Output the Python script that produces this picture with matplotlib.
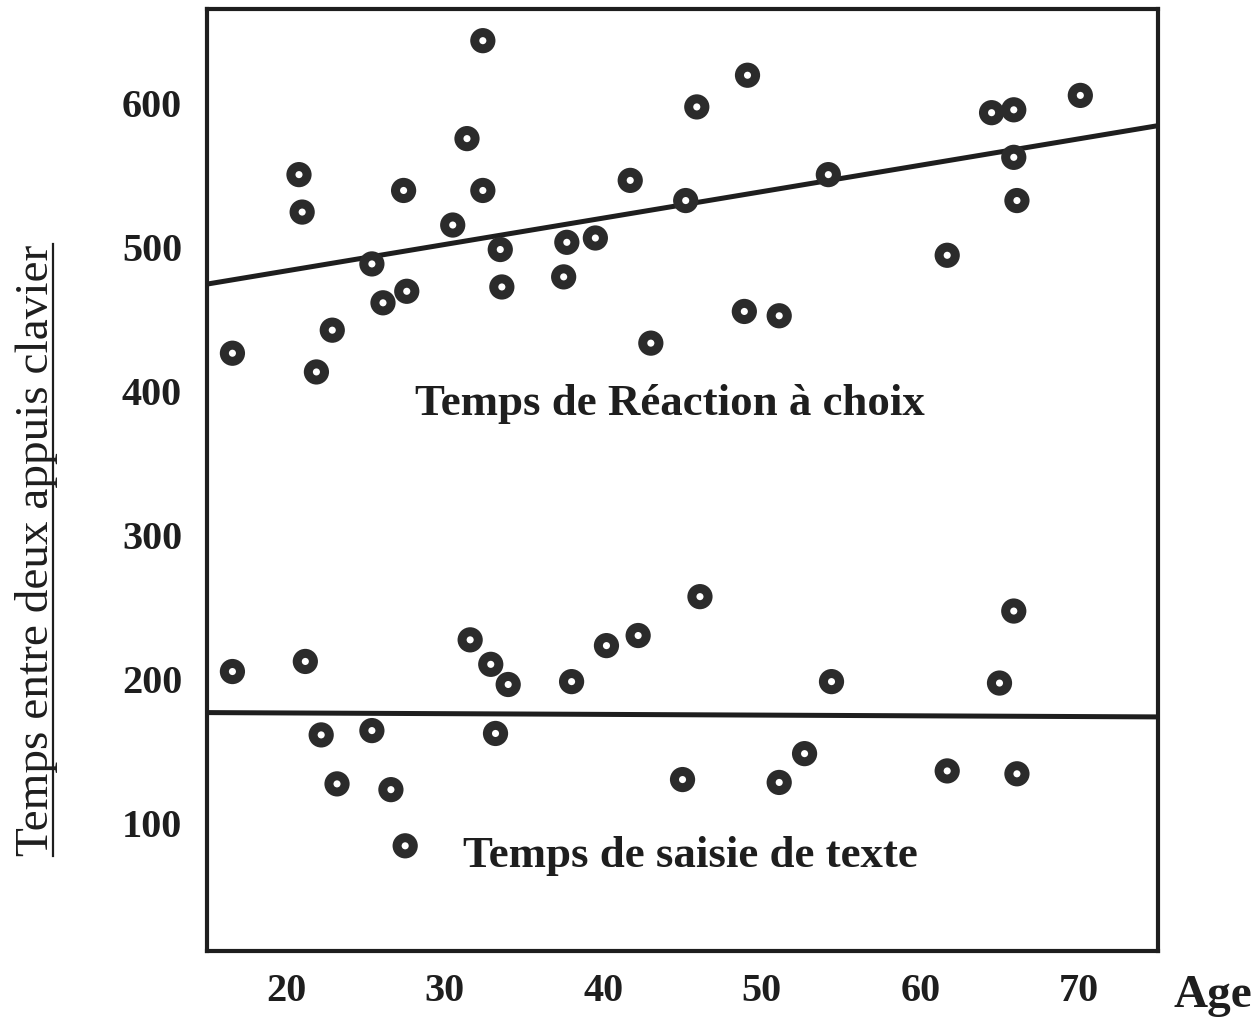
import matplotlib
matplotlib.use("Agg")
import matplotlib.pyplot as plt
from matplotlib.lines import Line2D

# --- données ---
ages_reaction = [32.4, 31.4, 20.8, 27.4, 32.4, 41.7, 21.0, 30.5, 25.4, 33.5, 37.7,
                 39.5, 27.6, 26.1, 33.6, 37.5, 22.9, 16.6, 21.9, 43.0, 49.1, 45.9,
                 64.5, 65.9, 70.1, 45.2, 54.2, 65.9, 66.1, 61.7, 48.9, 51.1]
temps_reaction = [643, 575, 550, 539, 539, 546, 524, 515, 488, 498, 503,
                  506, 469, 461, 472, 479, 442, 426, 413, 433, 619, 597,
                  593, 595, 605, 532, 550, 562, 532, 494, 455, 452]

ages_saisie = [16.6, 21.2, 31.6, 32.9, 34.0, 38.0, 40.2, 42.2, 46.1, 65.9, 54.4, 65.0,
               22.2, 25.4, 33.2, 23.2, 26.6, 27.5, 45.0, 52.7, 51.1, 61.7, 66.1]
temps_saisie = [205, 212, 227, 210, 196, 198, 223, 230, 257, 247, 198, 197,
                161, 164, 162, 127, 123, 84, 130, 148, 128, 136, 134]

# droites de regression (extremites lues)
droite_x = [15, 75]
droite_reaction = [474, 584]
droite_saisie = [176.5, 173.5]

xticks = [20, 30, 40, 50, 60, 70]
yticks = [100, 200, 300, 400, 500, 600]

police = "Liberation Serif"
gris = "#2b2b2b"
noir = "#1e1e1e"

fig = plt.figure(figsize=(12.58, 10.21), dpi=100)
ax = fig.add_axes([0.1646, 0.0686, 0.7559, 0.9226])

ax.plot(droite_x, droite_reaction, color=noir, lw=3.6, zorder=2)
ax.plot(droite_x, droite_saisie, color=noir, lw=3.6, zorder=2)

for xs, ys in [(ages_reaction, temps_reaction), (ages_saisie, temps_saisie)]:
    ax.scatter(xs, ys, s=330, c=gris, edgecolors="none", zorder=3)
    ax.scatter(xs, ys, s=26, c="white", edgecolors="none", zorder=4)

ax.set_xlim(15, 75)
ax.set_ylim(11, 665)
ax.set_xticks(xticks)
ax.set_yticks(yticks)
ax.tick_params(length=0, labelsize=29, labelcolor=noir)
ax.tick_params(axis="x", pad=16)
ax.tick_params(axis="y", pad=18)
for lab in ax.get_xticklabels() + ax.get_yticklabels():
    lab.set_fontfamily(police)
    lab.set_fontweight("bold")
for sp in ax.spines.values():
    sp.set_linewidth(3.0)
    sp.set_color(noir)

ax.text(44.2, 391, "Temps de Réaction à choix", ha="center", va="center",
        fontsize=32.3, fontweight="bold", family=police, color=noir)
ax.text(45.5, 77, "Temps de saisie de texte", ha="center", va="center",
        fontsize=32.3, fontweight="bold", family=police, color=noir)

fig.text(1213 / 1258, 1 - 996 / 1021, "Age", ha="center", va="center",
         fontsize=34, fontweight="bold", family=police, color=noir)

# titre de l'axe y, souligne
ylab = fig.text(37 / 1258, 1 - 550 / 1021, "Temps entre deux appuis clavier",
                rotation=90, ha="center", va="center", fontsize=34,
                family=police, color=noir)
fig.canvas.draw()
bb = ylab.get_window_extent().transformed(fig.transFigure.inverted())
xu = 53 / 1258
fig.add_artist(Line2D([xu, xu], [bb.y0, bb.y1], transform=fig.transFigure,
                      color=noir, lw=1.6))

fig.savefig("out.png", dpi=100)
